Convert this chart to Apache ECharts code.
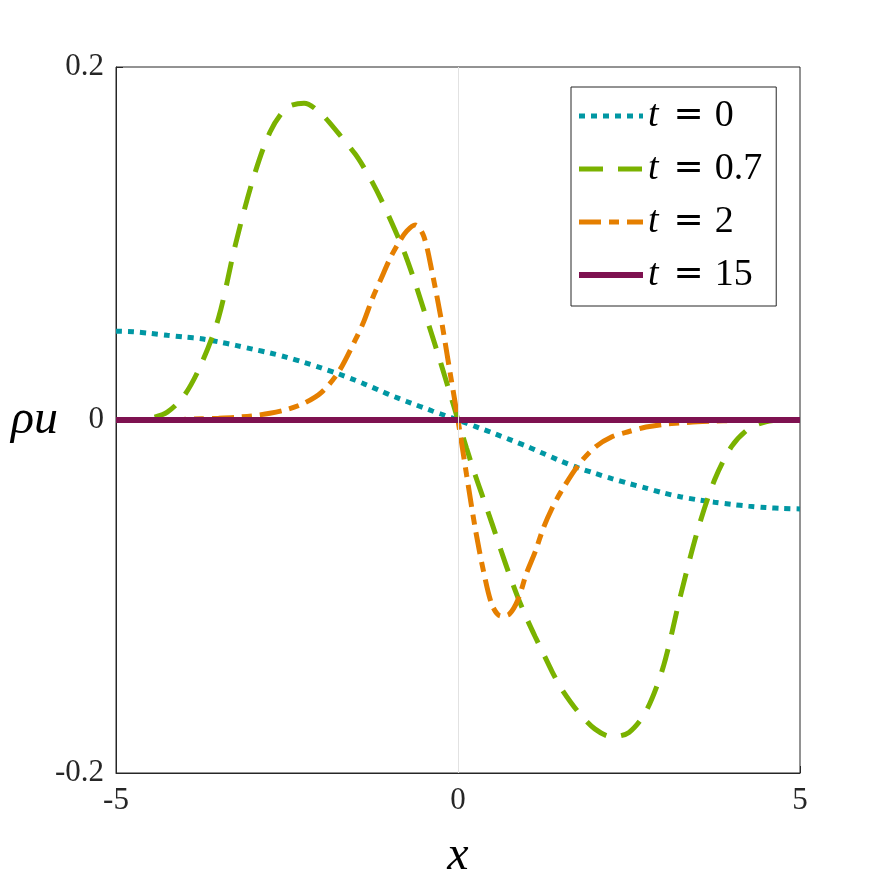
<!DOCTYPE html>
<html>
<head>
<meta charset="utf-8">
<script src="https://cdn.jsdelivr.net/npm/echarts@6/dist/echarts.min.js"></script>
<style>
  html, body { margin: 0; padding: 0; background: #fff; }
  #chart { width: 886px; height: 886px; }
</style>
</head>
<body>
<div id="chart"></div>
<script>
// x grid (finer near the centre where the t = 2 curve is steep)
const xs = [-5, -4.75, -4.5, -4.25, -4, -3.75, -3.5, -3.25, -3, -2.75, -2.5, -2.25, -2, -1.75,
  -1.5, -1.375, -1.25, -1.125, -1, -0.875, -0.75, -0.625, -0.5, -0.375, -0.25, -0.125,
  0, 0.125, 0.25, 0.375, 0.5, 0.625, 0.75, 0.875, 1, 1.125, 1.25, 1.375, 1.5,
  1.75, 2, 2.25, 2.5, 2.75, 3, 3.25, 3.5, 3.75, 4, 4.25, 4.5, 4.75, 5];

// rho*u
const rhoU_t0 = [0.0503, 0.0500, 0.0491, 0.0480, 0.0470, 0.0460, 0.0443, 0.0423, 0.0401, 0.0380, 0.0355, 0.0326, 0.0295, 0.0262,
  0.0225, 0.0205, 0.0185, 0.0164, 0.0143, 0.0124, 0.0105, 0.0087, 0.0069, 0.0051, 0.0034, 0.0017,
  0, -0.0018, -0.0036, -0.0054, -0.0072, -0.0091, -0.011, -0.0129, -0.0148, -0.0169, -0.019, -0.0211, -0.0232,
  -0.027, -0.0302, -0.0332, -0.036, -0.0386, -0.0413, -0.0435, -0.0452, -0.0466, -0.0478, -0.0488, -0.0496, -0.0501, -0.0504];

const rhoU_t07 = [0, 0, 0.001, 0.0045, 0.014, 0.032, 0.058, 0.100, 0.136, 0.163, 0.177, 0.1795, 0.1735, 0.1625,
  0.1505, 0.143, 0.1345, 0.125, 0.1145, 0.1035, 0.0915, 0.0775, 0.0625, 0.0475, 0.032, 0.016,
  0, -0.016, -0.031, -0.045, -0.059, -0.0735, -0.0875, -0.1005, -0.112, -0.1225, -0.1325, -0.1425, -0.1515,
  -0.165, -0.175, -0.1795, -0.177, -0.165, -0.140, -0.100, -0.063, -0.034, -0.015, -0.005, -0.001, 0, 0];

const rhoU_t2 = [0, 0, 0.0001, 0.0002, 0.0004, 0.0007, 0.001, 0.0015, 0.0024, 0.0038, 0.006, 0.0095, 0.0155, 0.027,
  0.0455, 0.056, 0.069, 0.080, 0.091, 0.100, 0.107, 0.1105, 0.104, 0.083, 0.058, 0.029,
  0, -0.031, -0.061, -0.086, -0.105, -0.111, -0.110, -0.102, -0.087, -0.075, -0.061, -0.050, -0.041,
  -0.026, -0.0155, -0.0095, -0.0065, -0.004, -0.0025, -0.0017, -0.001, -0.0006, -0.0003, -0.0002, -0.0001, 0, 0];

const rhoU_t15 = xs.map(() => 0);

const tLabels = ['0', '0.7', '2', '15'];
const xTicks = [-5, 0, 5];
const yTicks = [-0.2, 0, 0.2];

const pair = ys => xs.map((x, i) => [x, ys[i]]);

const serif = 'Liberation Serif';
const axisColor = '#262626';

// one style per curve, used by the series and by its legend sample
const styles = [
  { color: '#0097A3', width: 5, type: [6, 6] },
  { color: '#7AB200', width: 5, type: [24, 15] },
  { color: '#E57F00', width: 5, type: [22, 8, 10, 8] },
  { color: '#7E1150', width: 6, type: 'solid' }
];
const curves = [rhoU_t0, rhoU_t07, rhoU_t2, rhoU_t15];

const chart = echarts.init(document.getElementById('chart'));

chart.setOption({
  animation: false,
  grid: {
    left: 116, right: 86, top: 67, bottom: 113,
    show: true, borderColor: axisColor, borderWidth: 1
  },
  legend: {
    orient: 'vertical',
    left: 571, top: 87,
    padding: [9, 14, 11, 5],
    itemWidth: 64, itemHeight: 14,
    itemGap: 13,
    backgroundColor: '#fff',
    borderColor: axisColor, borderWidth: 1, borderRadius: 0,
    data: tLabels.map((t, i) => ({
      name: 't = ' + t,
      itemStyle: { opacity: 0 },
      lineStyle: { color: styles[i].color, width: styles[i].width, type: styles[i].type }
    })),
    formatter: name => '{it|t}{eq|=}' + name.slice(4),
    textStyle: {
      fontFamily: serif, fontSize: 38, color: '#000', lineHeight: 40,
      rich: {
        it: { fontFamily: serif, fontStyle: 'italic', fontSize: 38 },
        eq: { fontFamily: 'DejaVu Sans', fontSize: 36, padding: [0, 11, 0, 15] }
      }
    }
  },
  xAxis: {
    type: 'value', min: xTicks[0], max: xTicks[2], interval: 5,
    name: 'x', nameLocation: 'middle', nameGap: 59, nameMoveOverlap: false,
    nameTextStyle: { fontFamily: serif, fontStyle: 'italic', fontSize: 48, color: '#000' },
    axisLine: { onZero: false, lineStyle: { color: axisColor, width: 1 } },
    axisTick: { inside: true, length: 7, lineStyle: { color: axisColor } },
    axisLabel: { margin: 12, fontFamily: serif, fontSize: 31, color: axisColor },
    splitLine: { show: false }
  },
  yAxis: {
    type: 'value', min: yTicks[0], max: yTicks[2], interval: 0.2,
    name: 'ρu', nameLocation: 'middle', nameRotate: 0, nameGap: 58, nameMoveOverlap: false,
    nameTextStyle: { fontFamily: serif, fontStyle: 'italic', fontSize: 48, color: '#000' },
    axisLine: { onZero: false, lineStyle: { color: axisColor, width: 1 } },
    axisTick: { inside: true, length: 7, lineStyle: { color: axisColor } },
    axisLabel: { margin: 12, fontFamily: serif, fontSize: 31, color: axisColor },
    splitLine: { show: false }
  },
  series: curves.map((ys, i) => ({
    name: 't = ' + tLabels[i],
    type: 'line',
    data: pair(ys),
    symbol: 'none',
    smooth: i === 3 ? false : 0.3,
    lineStyle: styles[i],
    itemStyle: { color: styles[i].color },
    markLine: i === 0 ? {
      silent: true, symbol: 'none', label: { show: false },
      lineStyle: { color: '#e2e2e2', width: 1, type: 'solid' },
      data: [{ xAxis: 0 }]
    } : undefined
  }))
});
</script>
</body>
</html>
